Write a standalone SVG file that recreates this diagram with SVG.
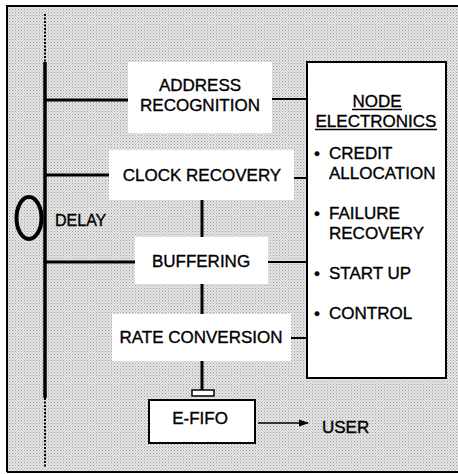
<svg xmlns="http://www.w3.org/2000/svg" width="458" height="474" viewBox="0 0 458 474">
  <defs>
    <pattern id="halftone" width="3" height="3" patternUnits="userSpaceOnUse">
      <rect width="3" height="3" fill="#e6e6e6"/>
      <rect x="0" y="0" width="1" height="1" fill="#9a9a9a"/>
      <rect x="1.5" y="1.5" width="1" height="1" fill="#b4b4b4"/>
    </pattern>
    <marker id="arrow" markerWidth="10" markerHeight="8" refX="9" refY="4" orient="auto" markerUnits="userSpaceOnUse">
      <path d="M0,0.5 L10,4 L0,7.5 Z" fill="#000"/>
    </marker>
  </defs>
  <style>
    text { font-family: "Liberation Sans", Arial, sans-serif; fill: #000; stroke: #000; stroke-width: 0.35; }
    .lbl { font-size: 17px; }
    .box { fill: #fff; stroke: none; }
    .frame { fill: #fff; stroke: #000; stroke-width: 2; }
    .bus { stroke: #000; stroke-width: 3.5; fill: none; }
    .tap { stroke: #000; stroke-width: 3; fill: none; }
    .link { stroke: #000; stroke-width: 2; fill: none; }
  </style>

  <!-- shaded panel -->
  <rect x="7" y="6" width="451" height="466" fill="url(#halftone)"/>
  <path d="M7,472 V6 H458" fill="none" stroke="#000" stroke-width="2"/>
  <line x1="7" y1="472" x2="458" y2="472" stroke="#000" stroke-width="2"/>

  <g id="connectors">
    <!-- ring bus -->
    <line x1="45" y1="14" x2="45" y2="62" stroke="#000" stroke-width="2" stroke-dasharray="2 1.5"/>
    <line class="bus" x1="45" y1="62" x2="45" y2="398"/>
    <line x1="45" y1="398" x2="45" y2="467" stroke="#000" stroke-width="2" stroke-dasharray="2 1.5"/>
    <!-- taps from bus -->
    <line class="tap" x1="45" y1="100" x2="128" y2="100"/>
    <line class="tap" x1="45" y1="175" x2="109" y2="175"/>
    <line class="tap" x1="45" y1="262" x2="135" y2="262"/>
    <!-- links to node electronics -->
    <line class="link" x1="272" y1="99" x2="307" y2="99"/>
    <line class="link" x1="294" y1="178" x2="307" y2="178"/>
    <line class="link" x1="268" y1="262" x2="307" y2="262"/>
    <line class="link" x1="291" y1="338" x2="307" y2="338"/>
    <!-- data path down the chain -->
    <line class="tap" x1="202" y1="200" x2="202" y2="237"/>
    <line class="tap" x1="202" y1="284" x2="202" y2="314"/>
    <line class="tap" x1="202" y1="361" x2="202" y2="390"/>
    <!-- output to user -->
    <line x1="258" y1="423" x2="308" y2="423" stroke="#000" stroke-width="1.5" marker-end="url(#arrow)"/>
  </g>

  <g id="delay">
    <ellipse cx="29" cy="218" rx="12.5" ry="21" fill="none" stroke="#000" stroke-width="4"/>
    <text x="55" y="226" font-size="16">DELAY</text>
  </g>

  <g id="address-recognition">
    <rect class="box" x="128" y="62" width="144" height="71"/>
    <text class="lbl" x="200" y="91" text-anchor="middle">ADDRESS</text>
    <text class="lbl" x="200" y="111" text-anchor="middle">RECOGNITION</text>
  </g>

  <g id="clock-recovery">
    <rect class="box" x="109" y="150" width="185" height="50"/>
    <text class="lbl" x="202" y="181" text-anchor="middle">CLOCK RECOVERY</text>
  </g>

  <g id="buffering">
    <rect class="box" x="135" y="237" width="133" height="47"/>
    <text class="lbl" x="201" y="267" text-anchor="middle">BUFFERING</text>
  </g>

  <g id="rate-conversion">
    <rect class="box" x="112" y="314" width="179" height="47"/>
    <text class="lbl" x="201" y="343" text-anchor="middle">RATE CONVERSION</text>
  </g>

  <g id="e-fifo">
    <rect x="192" y="390" width="22" height="6" fill="#fff" stroke="#000" stroke-width="1.5"/>
    <rect class="frame" x="149" y="400" width="106" height="43" stroke-width="1.5"/>
    <text class="lbl" x="200" y="424" text-anchor="middle">E-FIFO</text>
  </g>

  <g id="user">
    <text class="lbl" x="322" y="433">USER</text>
  </g>

  <g id="node-electronics">
    <rect class="frame" x="307" y="62" width="139" height="316"/>
    <text class="lbl" x="377" y="107" text-anchor="middle">NODE</text>
    <line x1="352" y1="109.5" x2="402" y2="109.5" stroke="#000" stroke-width="1.3"/>
    <text class="lbl" x="376" y="127" text-anchor="middle">ELECTRONICS</text>
    <line x1="315" y1="129.5" x2="437" y2="129.5" stroke="#000" stroke-width="1.3"/>
    <text class="lbl" x="314" y="159">•</text>
    <text class="lbl" x="329" y="159">CREDIT</text>
    <text class="lbl" x="329" y="179">ALLOCATION</text>
    <text class="lbl" x="314" y="219">•</text>
    <text class="lbl" x="329" y="219">FAILURE</text>
    <text class="lbl" x="329" y="239">RECOVERY</text>
    <text class="lbl" x="314" y="279">•</text>
    <text class="lbl" x="329" y="279">START UP</text>
    <text class="lbl" x="314" y="319">•</text>
    <text class="lbl" x="329" y="319">CONTROL</text>
  </g>
</svg>
